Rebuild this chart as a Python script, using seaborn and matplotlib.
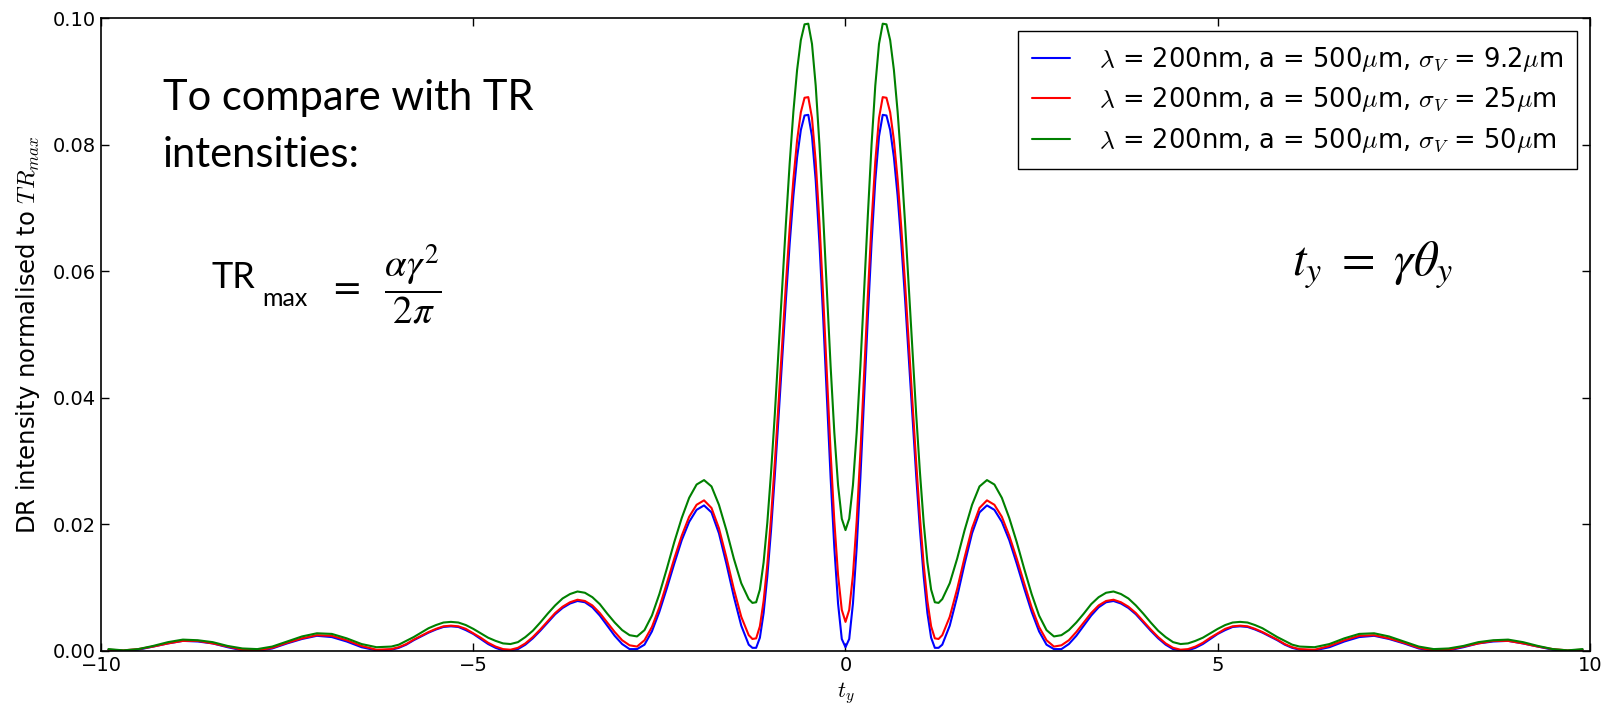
import matplotlib
matplotlib.use("Agg")
import matplotlib.pyplot as plt
import pandas as pd
import seaborn as sns
from matplotlib.ticker import FormatStrFormatter

# ---------------- data ----------------
t_values = [
    -9.9, -9.7, -9.5, -9.3, -9.1, -8.9, -8.7, -8.5, -8.3, -8.1, -7.9, -7.7, -7.5, -7.3, -7.1, -6.9, -6.7, -6.5, -6.3,
    -6.1, -6.0, -5.9, -5.8, -5.7, -5.6, -5.5, -5.4, -5.3, -5.2, -5.1, -5.0, -4.9, -4.8, -4.7, -4.6, -4.5, -4.4,
    -4.3, -4.2, -4.1, -4.0, -3.9, -3.8, -3.7, -3.6, -3.5, -3.4, -3.3, -3.2, -3.1, -3.0, -2.9,
    -2.8, -2.7, -2.6, -2.5, -2.4, -2.3, -2.2, -2.1, -2.0, -1.9, -1.8, -1.7, -1.6, -1.5, -1.4, -1.3,
    -1.25, -1.20, -1.15, -1.10, -1.05, -1.00, -0.95, -0.90, -0.85, -0.80, -0.75, -0.70, -0.65, -0.60, -0.55,
    -0.50, -0.45, -0.40, -0.35, -0.30, -0.25, -0.20, -0.15, -0.10, -0.05,
    0.00, 0.05, 0.10, 0.15, 0.20, 0.25, 0.30, 0.35, 0.40, 0.45, 0.50, 0.55, 0.60, 0.65, 0.70, 0.75, 0.80,
    0.85, 0.90, 0.95, 1.00, 1.05, 1.10, 1.15, 1.20, 1.25,
    1.3, 1.4, 1.5, 1.6, 1.7, 1.8, 1.9, 2.0, 2.1, 2.2, 2.3, 2.4, 2.5, 2.6, 2.7, 2.8,
    2.9, 3.0, 3.1, 3.2, 3.3, 3.4, 3.5, 3.6, 3.7, 3.8, 3.9, 4.0, 4.1, 4.2, 4.3, 4.4, 4.5,
    4.6, 4.7, 4.8, 4.9, 5.0, 5.1, 5.2, 5.3, 5.4, 5.5, 5.6, 5.7, 5.8, 5.9, 6.0, 6.1,
    6.3, 6.5, 6.7, 6.9, 7.1, 7.3, 7.5, 7.7, 7.9, 8.1, 8.3, 8.5, 8.7, 8.9, 9.1, 9.3, 9.5, 9.7, 9.9,
]

sigma_9p2_values = [
    0.0002, 0.0000, 0.0002, 0.0007, 0.0012, 0.0016, 0.0015, 0.0012, 0.0006, 0.0001, 0.0000, 0.0004, 0.0012,
    0.0019, 0.0024, 0.0022, 0.0015, 0.0006, 0.0001,
    0.0002, 0.0005, 0.0010, 0.0017, 0.0023, 0.0029, 0.0034, 0.0038, 0.0039, 0.0038, 0.0033, 0.0027, 0.0019,
    0.0011, 0.0005, 0.0001, 0.0001, 0.0003, 0.0010, 0.0020, 0.0032, 0.0045, 0.0058, 0.0068, 0.0075, 0.0079,
    0.0077, 0.0069, 0.0056, 0.0040, 0.0024, 0.0011, 0.0003,
    0.0003, 0.0010, 0.0031, 0.0062, 0.0099, 0.0138, 0.0175, 0.0204, 0.0223, 0.0230, 0.0219, 0.0186, 0.0138,
    0.0086, 0.0040, 0.0010,
    0.0005, 0.0005, 0.0021, 0.0060, 0.0118, 0.0191, 0.0276, 0.0368, 0.0463, 0.0556, 0.0643, 0.0719, 0.0780,
    0.0823, 0.0846, 0.0847, 0.0813, 0.0743, 0.0644, 0.0527, 0.0399, 0.0274, 0.0163, 0.0075, 0.0019,
    0.0006, 0.0019, 0.0075, 0.0163, 0.0274, 0.0399, 0.0527, 0.0644, 0.0743, 0.0813, 0.0847, 0.0846, 0.0823,
    0.0780, 0.0719, 0.0643, 0.0556, 0.0463, 0.0368, 0.0276, 0.0191, 0.0118, 0.0060, 0.0021, 0.0005, 0.0005,
    0.0010, 0.0040, 0.0086, 0.0138, 0.0186, 0.0219, 0.0230, 0.0223, 0.0204, 0.0175, 0.0138, 0.0099, 0.0062,
    0.0031, 0.0010, 0.0003,
    0.0003, 0.0011, 0.0024, 0.0040, 0.0056, 0.0069, 0.0077, 0.0079, 0.0075, 0.0068, 0.0058, 0.0045, 0.0032,
    0.0020, 0.0010, 0.0003, 0.0001,
    0.0001, 0.0005, 0.0011, 0.0019, 0.0027, 0.0033, 0.0038, 0.0039, 0.0038, 0.0034, 0.0029, 0.0023, 0.0017,
    0.0010, 0.0005, 0.0002,
    0.0001, 0.0006, 0.0015, 0.0022, 0.0024, 0.0019, 0.0012, 0.0004, 0.0000, 0.0001, 0.0006, 0.0012, 0.0015,
    0.0016, 0.0012, 0.0007, 0.0002, 0.0000, 0.0002,
]

sigma_25_values = [
    0.0002, 0.0001, 0.0003, 0.0007, 0.0012, 0.0016, 0.0016, 0.0012, 0.0007, 0.0002, 0.0001, 0.0005, 0.0013,
    0.0020, 0.0025, 0.0024, 0.0017, 0.0008, 0.0002,
    0.0003, 0.0006, 0.0011, 0.0018, 0.0024, 0.0030, 0.0035, 0.0039, 0.0040, 0.0039, 0.0035, 0.0028, 0.0021,
    0.0013, 0.0007, 0.0003, 0.0002, 0.0005, 0.0012, 0.0022, 0.0034, 0.0047, 0.0060, 0.0070, 0.0077, 0.0081,
    0.0079, 0.0072, 0.0060, 0.0045, 0.0030, 0.0017, 0.0009,
    0.0007, 0.0017, 0.0038, 0.0069, 0.0107, 0.0146, 0.0182, 0.0212, 0.0231, 0.0238, 0.0226, 0.0194, 0.0148,
    0.0098, 0.0054, 0.0025,
    0.0019, 0.0020, 0.0039, 0.0079, 0.0137, 0.0211, 0.0297, 0.0390, 0.0486, 0.0581, 0.0668, 0.0745, 0.0807,
    0.0851, 0.0874, 0.0875, 0.0842, 0.0773, 0.0677, 0.0561, 0.0437, 0.0314, 0.0205, 0.0120, 0.0065,
    0.0046, 0.0065, 0.0120, 0.0205, 0.0314, 0.0437, 0.0561, 0.0677, 0.0773, 0.0842, 0.0875, 0.0874, 0.0851,
    0.0807, 0.0745, 0.0668, 0.0581, 0.0486, 0.0390, 0.0297, 0.0211, 0.0137, 0.0079, 0.0039, 0.0020, 0.0019,
    0.0025, 0.0054, 0.0098, 0.0148, 0.0194, 0.0226, 0.0238, 0.0231, 0.0212, 0.0182, 0.0146, 0.0107, 0.0069,
    0.0038, 0.0017, 0.0007,
    0.0009, 0.0017, 0.0030, 0.0045, 0.0060, 0.0072, 0.0079, 0.0081, 0.0077, 0.0070, 0.0060, 0.0047, 0.0034,
    0.0022, 0.0012, 0.0005, 0.0002,
    0.0003, 0.0007, 0.0013, 0.0021, 0.0028, 0.0035, 0.0039, 0.0040, 0.0039, 0.0035, 0.0030, 0.0024, 0.0018,
    0.0011, 0.0006, 0.0003,
    0.0002, 0.0008, 0.0017, 0.0024, 0.0025, 0.0020, 0.0013, 0.0005, 0.0001, 0.0002, 0.0007, 0.0012, 0.0016,
    0.0016, 0.0012, 0.0007, 0.0003, 0.0001, 0.0002,
]

sigma_50_values = [
    0.0003, 0.0001, 0.0003, 0.0008, 0.0014, 0.0018, 0.0017, 0.0014, 0.0008, 0.0004, 0.0003, 0.0007, 0.0015,
    0.0023, 0.0028, 0.0027, 0.0020, 0.0011, 0.0006,
    0.0007, 0.0010, 0.0016, 0.0022, 0.0029, 0.0036, 0.0041, 0.0045, 0.0046, 0.0045, 0.0041, 0.0035, 0.0028,
    0.0021, 0.0016, 0.0012, 0.0011, 0.0014, 0.0022, 0.0032, 0.0045, 0.0059, 0.0072, 0.0083, 0.0090, 0.0094,
    0.0092, 0.0085, 0.0074, 0.0059, 0.0045, 0.0033, 0.0025,
    0.0023, 0.0033, 0.0056, 0.0090, 0.0130, 0.0172, 0.0210, 0.0242, 0.0263, 0.0270, 0.0260, 0.0231, 0.0191,
    0.0146, 0.0107, 0.0082,
    0.0076, 0.0077, 0.0097, 0.0140, 0.0203, 0.0282, 0.0373, 0.0473, 0.0575, 0.0676, 0.0770, 0.0852, 0.0918,
    0.0965, 0.0990, 0.0991, 0.0959, 0.0893, 0.0800, 0.0688, 0.0568, 0.0450, 0.0345, 0.0262, 0.0209,
    0.0191, 0.0209, 0.0262, 0.0345, 0.0450, 0.0568, 0.0688, 0.0800, 0.0893, 0.0959, 0.0991, 0.0990, 0.0965,
    0.0918, 0.0852, 0.0770, 0.0676, 0.0575, 0.0473, 0.0373, 0.0282, 0.0203, 0.0140, 0.0097, 0.0077, 0.0076,
    0.0082, 0.0107, 0.0146, 0.0191, 0.0231, 0.0260, 0.0270, 0.0263, 0.0242, 0.0210, 0.0172, 0.0130, 0.0090,
    0.0056, 0.0033, 0.0023,
    0.0025, 0.0033, 0.0045, 0.0059, 0.0074, 0.0085, 0.0092, 0.0094, 0.0090, 0.0083, 0.0072, 0.0059, 0.0045,
    0.0032, 0.0022, 0.0014, 0.0011,
    0.0012, 0.0016, 0.0021, 0.0028, 0.0035, 0.0041, 0.0045, 0.0046, 0.0045, 0.0041, 0.0036, 0.0029, 0.0022,
    0.0016, 0.0010, 0.0007,
    0.0006, 0.0011, 0.0020, 0.0027, 0.0028, 0.0023, 0.0015, 0.0007, 0.0003, 0.0004, 0.0008, 0.0014, 0.0017,
    0.0018, 0.0014, 0.0008, 0.0003, 0.0001, 0.0003,
]

series_labels = [
    r"$\lambda$ = 200nm, a = 500$\mu$m, $\sigma_V$ = 9.2$\mu$m",
    r"$\lambda$ = 200nm, a = 500$\mu$m, $\sigma_V$ = 25$\mu$m",
    r"$\lambda$ = 200nm, a = 500$\mu$m, $\sigma_V$ = 50$\mu$m",
]
series_colors = ["#0000ff", "#ff0000", "#008000"]

x_ticks = [-10, -5, 0, 5, 10]
y_ticks = [0.00, 0.02, 0.04, 0.06, 0.08, 0.10]

# ---------------- table for seaborn ----------------
all_series = [sigma_9p2_values, sigma_25_values, sigma_50_values]
assert all(len(s) == len(t_values) for s in all_series), [len(s) for s in all_series] + [len(t_values)]
df = pd.DataFrame({
    "t": t_values * 3,
    "intensity": sigma_9p2_values + sigma_25_values + sigma_50_values,
    "series": sum([[lab] * len(t_values) for lab in series_labels], []),
})

# ---------------- style ----------------
sns.set_style("ticks")
plt.rcParams.update({
    "font.family": ["DejaVu Sans"],
    "mathtext.fontset": "cm",
    "xtick.direction": "in",
    "ytick.direction": "in",
    "xtick.top": True,
    "ytick.right": True,
    "axes.edgecolor": "black",
    "axes.linewidth": 1.2,
    "xtick.color": "black",
    "ytick.color": "black",
    "text.color": "black",
    "axes.labelcolor": "black",
})

W, H = 1605, 706
fig = plt.figure(figsize=(W / 100, H / 100), dpi=100)
ax = fig.add_axes([101 / W, 1 - 651 / H, (1590 - 101) / W, (651 - 18) / H])

sns.lineplot(
    data=df, x="t", y="intensity", hue="series", hue_order=series_labels,
    palette=dict(zip(series_labels, series_colors)), linewidth=1.5,
    estimator=None, sort=False, ax=ax,
)

ax.set_xlim(-10, 10)
ax.set_ylim(0, 0.10)
ax.set_xticks(x_ticks)
ax.set_yticks(y_ticks)
ax.yaxis.set_major_formatter(FormatStrFormatter("%.2f"))
ax.tick_params(labelsize=14, length=6, width=1)
ax.set_xlabel(r"$t_y$", fontsize=16)
ax.set_ylabel(r"DR intensity normalised to $TR_{max}$", fontsize=17.5, labelpad=8)

handles, labels = ax.get_legend_handles_labels()
leg = ax.legend(
    handles, labels, loc="upper right", fontsize=18.5, frameon=True, fancybox=False,
    edgecolor="black", framealpha=1, handlelength=1.5, handletextpad=1.1,
    labelspacing=0.45, borderpad=0.55,
)
leg.get_frame().set_linewidth(1.0)


def px(x, y):
    return x / W, 1 - y / H


fig.text(*px(163, 110), "To compare with TR", fontsize=30, family="Lato", va="baseline")
fig.text(*px(163, 167), "intensities:", fontsize=30, family="Lato", va="baseline")
fig.text(*px(212, 288), "TR", fontsize=26, family="Lato", va="baseline")
fig.text(*px(262, 306), "max", fontsize=18, family="Lato", va="baseline")
fig.text(*px(328, 284), r"$=\ \ \dfrac{\alpha\gamma^{2}}{2\pi}$", fontsize=28,
         math_fontfamily="stix", va="center")
fig.text(*px(1292, 275), r"$t_y\ =\ \gamma\theta_y$", fontsize=35,
         math_fontfamily="stix", va="baseline")

fig.savefig("out.png", dpi=100)
